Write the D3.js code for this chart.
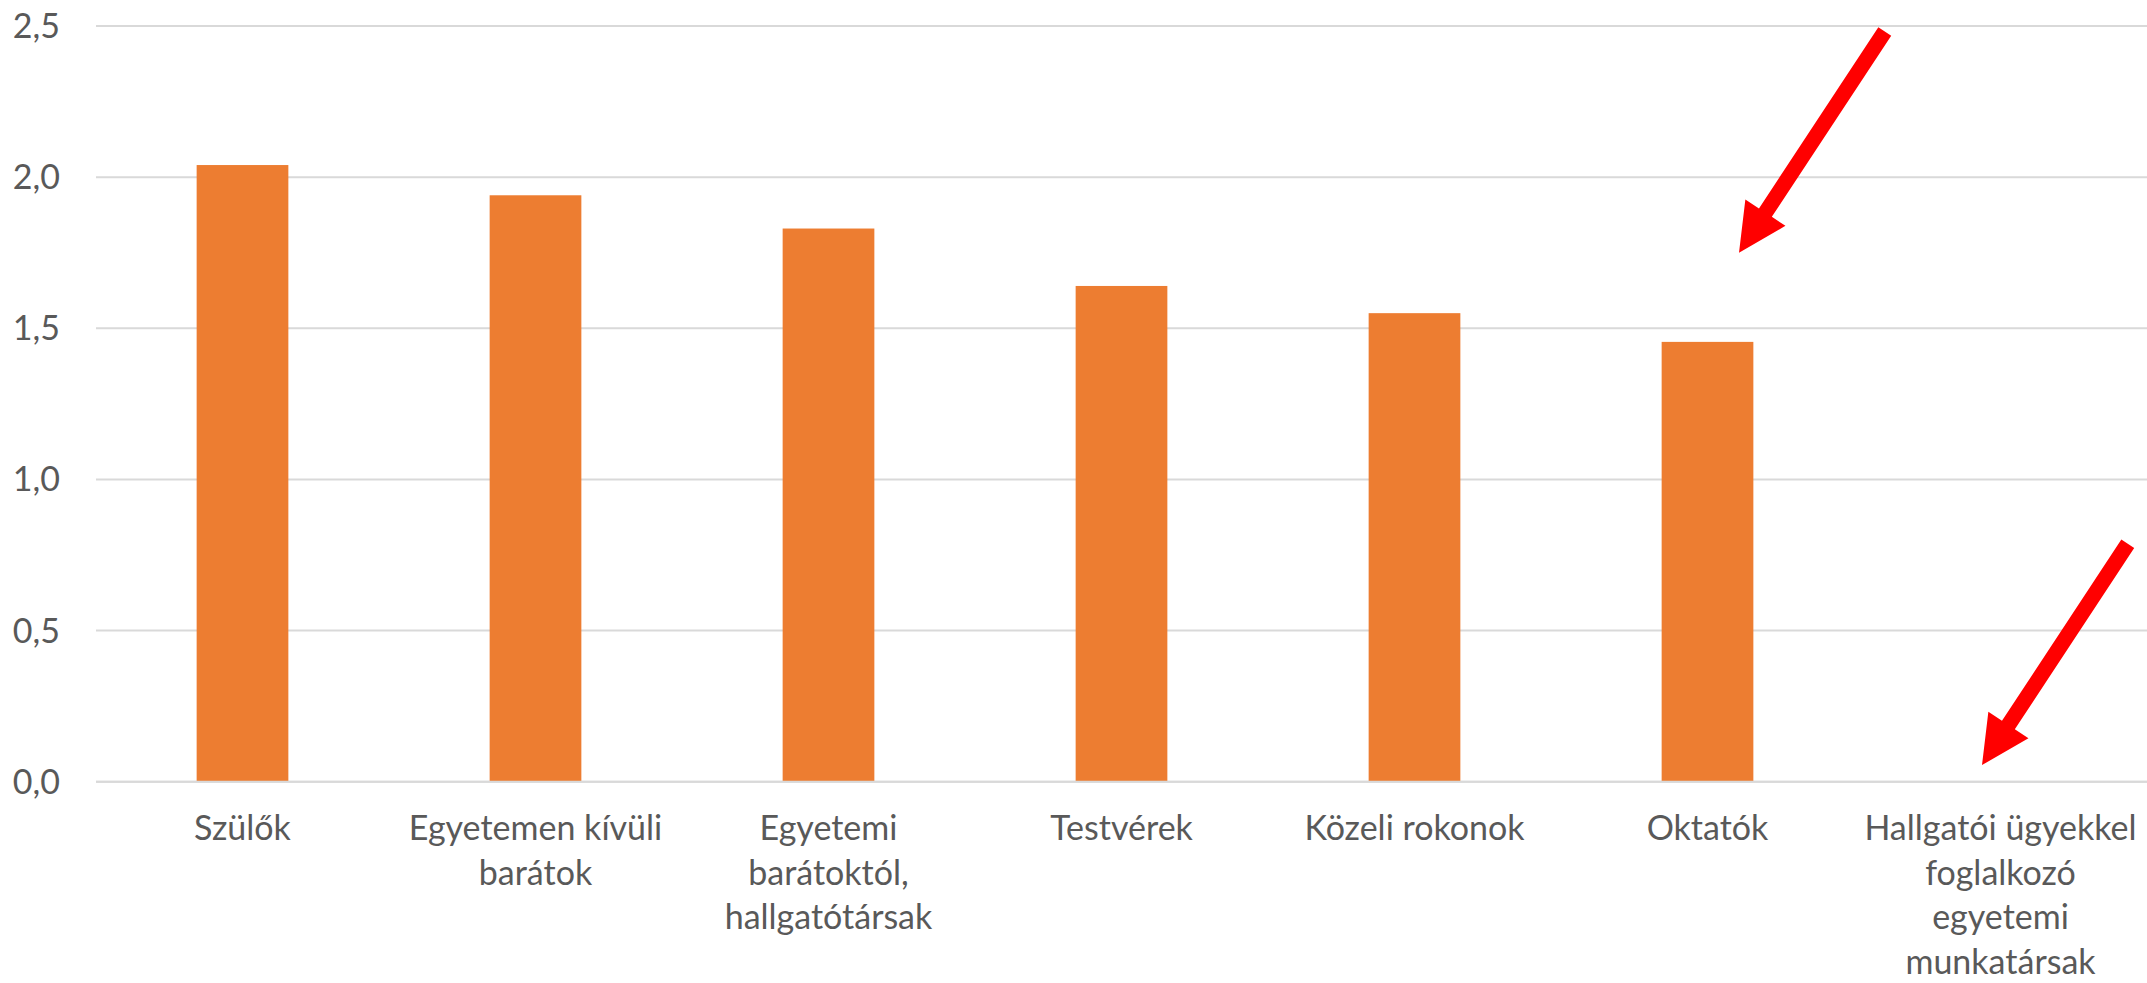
<!DOCTYPE html>
<html>
<head>
<meta charset="utf-8">
<script src="https://cdn.jsdelivr.net/npm/d3@7"></script>
<style>
  html, body { margin: 0; padding: 0; background: #ffffff; }
  svg { display: block; }
</style>
</head>
<body>
<svg id="chart" width="2147" height="983"></svg>
<script>
// ---- data ----
const categories = [
  "Szülők",
  "Egyetemen kívüli barátok",
  "Egyetemi barátoktól, hallgatótársak",
  "Testvérek",
  "Közeli rokonok",
  "Oktatók",
  "Hallgatói ügyekkel foglalkozó egyetemi munkatársak"
];
const values = [2.04, 1.94, 1.83, 1.64, 1.55, 1.455, 0];
const labelLines = [
  ["Szülők"],
  ["Egyetemen kívüli", "barátok"],
  ["Egyetemi", "barátoktól,", "hallgatótársak"],
  ["Testvérek"],
  ["Közeli rokonok"],
  ["Oktatók"],
  ["Hallgatói ügyekkel", "foglalkozó", "egyetemi", "munkatársak"]
];
const yTicks = [0, 0.5, 1.0, 1.5, 2.0, 2.5];
const yTickLabels = ["0,0", "0,5", "1,0", "1,5", "2,0", "2,5"];
// annotation arrows: target category and value at the arrow tip
const arrowCategories = ["Oktatók", "Hallgatói ügyekkel foglalkozó egyetemi munkatársak"];
const arrowTipValues = [1.75, 0.055];

// ---- layout ----
const W = 2147, H = 983;
const plot = { left: 96, right: 2147, top: 26, bottom: 781.7 };
const FONT = "Lato, 'Open Sans', sans-serif";
const FS = 34;
const TEXT = "#595959";

const svg = d3.select("#chart");

const x = d3.scaleBand()
  .domain(categories)
  .range([plot.left, plot.right])
  .paddingInner(0.687)
  .paddingOuter(0.3435);

const y = d3.scaleLinear()
  .domain([0, 2.5])
  .range([plot.bottom, plot.top]);

// gridlines
svg.append("g")
  .selectAll("line")
  .data(yTicks)
  .join("line")
  .attr("x1", plot.left)
  .attr("x2", plot.right)
  .attr("y1", d => y(d))
  .attr("y2", d => y(d))
  .attr("stroke", "#d9d9d9")
  .attr("stroke-width", 2);

// y axis labels
const yAxis = d3.axisLeft(y)
  .tickValues(yTicks)
  .tickFormat((d, i) => yTickLabels[i])
  .tickSize(0)
  .tickPadding(0);
const yg = svg.append("g")
  .attr("transform", `translate(60,0)`)
  .call(yAxis);
yg.select(".domain").remove();
yg.selectAll("text")
  .attr("font-family", FONT)
  .attr("font-size", FS)
  .attr("fill", TEXT)
  .attr("dy", "0.34em");

// bars
svg.append("g")
  .selectAll("rect")
  .data(categories)
  .join("rect")
  .attr("x", d => x(d))
  .attr("width", x.bandwidth())
  .attr("y", (d, i) => y(values[i]))
  .attr("height", (d, i) => y(0) - y(values[i]))
  .attr("fill", "#ED7D31");

// baseline redraw on top
svg.append("line")
  .attr("x1", plot.left).attr("x2", plot.right)
  .attr("y1", y(0)).attr("y2", y(0))
  .attr("stroke", "#d9d9d9").attr("stroke-width", 2);

// x labels
const xl = svg.append("g");
categories.forEach((c, i) => {
  const t = xl.append("text")
    .attr("x", x(c) + x.bandwidth() / 2)
    .attr("y", 840)
    .attr("text-anchor", "middle")
    .attr("font-family", FONT)
    .attr("font-size", FS)
    .attr("fill", TEXT);
  labelLines[i].forEach((ln, j) => {
    t.append("tspan")
      .attr("x", x(c) + x.bandwidth() / 2)
      .attr("dy", j === 0 ? 0 : 44.5)
      .text(ln);
  });
});

// arrows (annotations)
const tipOffsetX = [31.5, -18.5];
const arrowLen = 265, shaftW = 15.4, headL = 48, headW = 48;
const dir = [-0.55, 0.835];
arrowCategories.forEach((c, i) => {
  const tx = x(c) + x.bandwidth() / 2 + tipOffsetX[i];
  const ty = y(arrowTipValues[i]);
  const n = Math.hypot(dir[0], dir[1]);
  const ux = dir[0] / n, uy = dir[1] / n;   // direction toward tip
  const px = -uy, py = ux;                 // perpendicular
  const bx = tx - ux * headL, by = ty - uy * headL;   // head base center
  const sx = tx - ux * arrowLen, sy = ty - uy * arrowLen; // tail center
  const pts = [
    [sx + px * shaftW / 2, sy + py * shaftW / 2],
    [bx + px * shaftW / 2, by + py * shaftW / 2],
    [bx + px * headW / 2, by + py * headW / 2],
    [tx, ty],
    [bx - px * headW / 2, by - py * headW / 2],
    [bx - px * shaftW / 2, by - py * shaftW / 2],
    [sx - px * shaftW / 2, sy - py * shaftW / 2]
  ];
  svg.append("polygon")
    .attr("points", pts.map(p => p.join(",")).join(" "))
    .attr("fill", "#FF0000");
});
</script>
</body>
</html>
